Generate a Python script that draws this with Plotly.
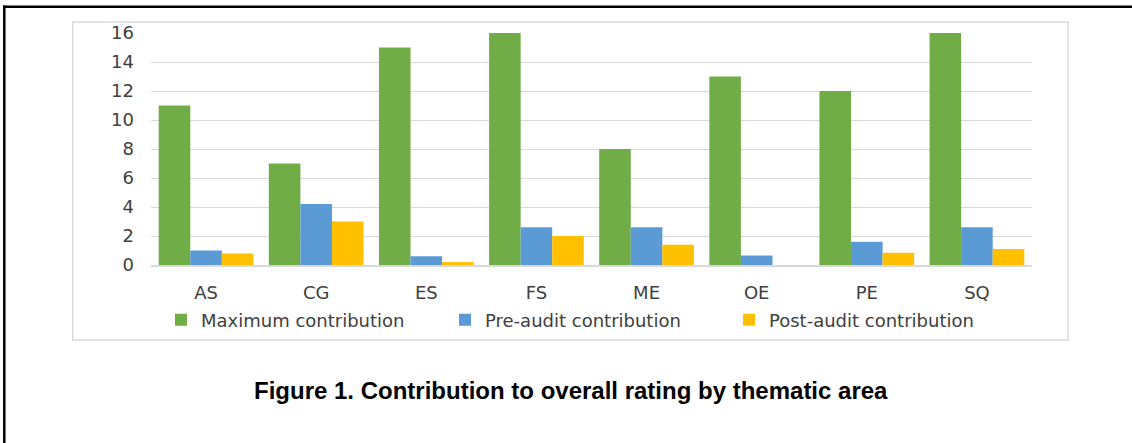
import plotly.graph_objects as go

categories = ["AS", "CG", "ES", "FS", "ME", "OE", "PE", "SQ"]
max_contrib = [11, 7, 15, 16, 8, 13, 12, 16]
pre_audit = [1.0, 4.2, 0.6, 2.6, 2.6, 0.65, 1.6, 2.6]
post_audit = [0.8, 3.0, 0.2, 2.0, 1.4, 0.0, 0.85, 1.1]
y_ticks = [0, 2, 4, 6, 8, 10, 12, 14, 16]

W, H = 1132, 443
L, R, T, B = 151, 100, 33, 178
pw, ph = W - L - R, H - T - B

def px(x):
    return (x - L) / pw

def py(y):
    return (H - B - y) / ph

FONT = "DejaVu Sans"
TXT = "#404040"

fig = go.Figure()
fig.add_trace(go.Bar(x=categories, y=max_contrib, name="Maximum contribution",
                     marker=dict(color="#70AD47", line=dict(width=0))))
fig.add_trace(go.Bar(x=categories, y=pre_audit, name="Pre-audit contribution",
                     marker=dict(color="#5B9BD5", line=dict(width=0))))
fig.add_trace(go.Bar(x=categories, y=post_audit, name="Post-audit contribution",
                     marker=dict(color="#FFC000", line=dict(width=0))))

fig.update_layout(
    width=W, height=H,
    margin=dict(l=L, r=R, t=T, b=B, pad=0),
    paper_bgcolor="white", plot_bgcolor="white",
    barmode="group", bargap=0.14, bargroupgap=0,
    font=dict(family=FONT, size=18, color=TXT),
    xaxis=dict(showgrid=False, showline=True, linecolor="#d9d9d9", linewidth=1.5,
               tickfont=dict(size=18, color=TXT), ticklabelstandoff=11,
               fixedrange=True),
    yaxis=dict(range=[0, 16], tickvals=y_ticks, showgrid=True, gridcolor="#d9d9d9",
               gridwidth=1.3, zeroline=False, showline=False,
               tickfont=dict(size=18, color=TXT), ticklabelstandoff=16,
               fixedrange=True),
    showlegend=True,
    legend=dict(orientation="h", x=px(161), y=py(320), xanchor="left", yanchor="middle",
                font=dict(size=18, color=TXT), entrywidth=239,
                bgcolor="rgba(0,0,0,0)", traceorder="normal"),
    annotations=[dict(text="<b>Figure 1. Contribution to overall rating by thematic area</b>",
                      xref="paper", yref="paper", x=px(571), y=py(390),
                      xanchor="center", yanchor="middle", showarrow=False,
                      font=dict(family="Liberation Sans", size=24, color="black"))],
    shapes=[
        dict(type="rect", xref="paper", yref="paper", x0=px(72.7), x1=px(1068),
             y0=py(340), y1=py(22), line=dict(color="#d9d9d9", width=1.5), layer="below"),
        dict(type="line", xref="paper", yref="paper", x0=px(3), x1=px(1132),
             y0=py(6.7), y1=py(6.7), line=dict(color="black", width=2.5)),
        dict(type="line", xref="paper", yref="paper", x0=px(4.3), x1=px(4.3),
             y0=py(5.5), y1=py(443), line=dict(color="black", width=2.5)),
    ],
)

fig.write_html("out.html", config={"displayModeBar": False},
               post_script="document.body.style.margin='0';document.body.style.padding='0';")
